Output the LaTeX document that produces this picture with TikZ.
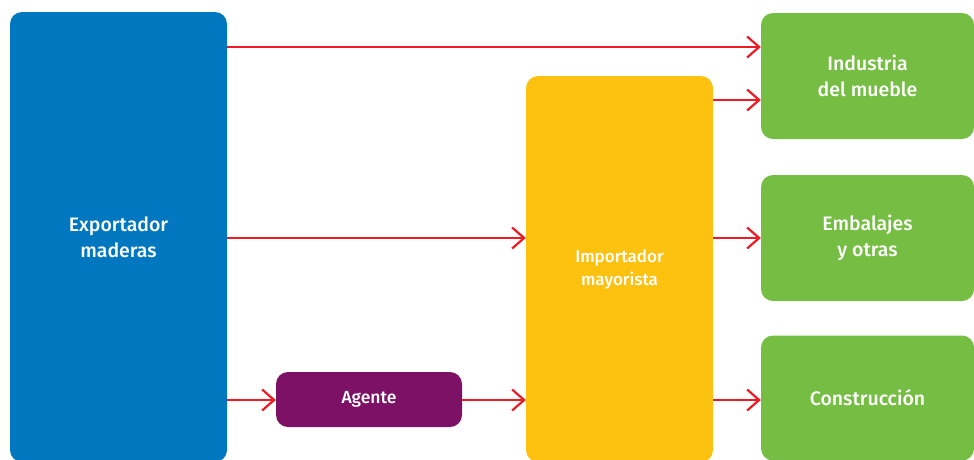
\documentclass[tikz,border=0pt]{standalone}
\usepackage{fontspec}
\setmainfont{Fira Sans}[BoldFont={Fira Sans Medium}]
\usetikzlibrary{arrows.meta}
\definecolor{cblue}{RGB}{0,119,190}
\definecolor{cyellow}{RGB}{253,194,16}
\definecolor{cpurple}{RGB}{125,17,102}
\definecolor{cgreen}{RGB}{118,190,67}
\definecolor{cred}{RGB}{237,28,36}
\tikzset{
  box/.style={rectangle, rounded corners=12pt, inner sep=0pt, text=white, align=center, font=\bfseries\fontsize{19.5}{26}\selectfont},
  conn/.style={draw=cred, line width=2.2pt, -{Straight Barb[length=12pt,width=21pt,line width=2.2pt]}}
}
\begin{document}
\begin{tikzpicture}[x=1pt,y=-1pt]
\useasboundingbox (0,0) rectangle (974,459);
\node[box, fill=cblue, minimum width=217pt, minimum height=450pt] (exp) at (118.5,237) {Exportador\\maderas};
\node[box, fill=cyellow, minimum width=187pt, minimum height=386pt, font=\bfseries\fontsize{17}{23}\selectfont] (imp) at (619.5,269) {Importador\\mayorista};
\node[box, fill=cpurple, minimum width=186pt, minimum height=55pt, font=\bfseries\fontsize{17.5}{20}\selectfont] (age) at (369,399.5) {Agente};
\node[box, fill=cgreen, minimum width=213pt, minimum height=126pt] (ind) at (867.5,76) {Industria\\del mueble};
\node[box, fill=cgreen, minimum width=213pt, minimum height=126pt] (emb) at (867.5,238) {Embalajes\\y otras};
\node[box, fill=cgreen, minimum width=213pt, minimum height=125pt] (con) at (867.5,398) {Construcción};
\draw[conn] (exp.east |- 0,47) -- (ind.west |- 0,47);
\draw[conn] (imp.east |- 0,100) -- (ind.west |- 0,100);
\draw[conn] (exp.east |- 0,238) -- (imp.west |- 0,238);
\draw[conn] (imp.east |- 0,238) -- (emb.west |- 0,238);
\draw[conn] (exp.east |- 0,400) -- (age.west |- 0,400);
\draw[conn] (age.east |- 0,400) -- (imp.west |- 0,400);
\draw[conn] (imp.east |- 0,400) -- (con.west |- 0,400);
\end{tikzpicture}
\end{document}
